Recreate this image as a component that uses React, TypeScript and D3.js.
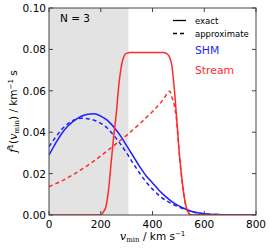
import { useEffect, useRef } from 'react';
import * as d3 from 'd3';

const WIDTH = 270;
const HEIGHT = 250;
const MARGIN = { top: 8, right: 14, bottom: 35, left: 49 };

// x positions (km/s) and values
const shmExactV = [0, 25, 50, 75, 100, 125, 150, 175, 200, 225, 250, 275, 300, 325, 350, 375, 400, 425, 450, 475, 500, 525, 550, 600, 650, 700, 800];
const shmExact = [0.029, 0.0345, 0.0395, 0.0432, 0.0458, 0.0477, 0.0487, 0.0489, 0.0478, 0.0458, 0.0425, 0.0385, 0.0335, 0.0285, 0.0235, 0.019, 0.0155, 0.012, 0.009, 0.0065, 0.0045, 0.003, 0.0018, 0.0006, 0.0002, 0.00005, 0];

const shmApproxV = [0, 25, 50, 75, 100, 125, 150, 175, 200, 225, 250, 275, 300, 325, 350, 375, 400, 425, 450, 475, 500, 525, 550, 600, 650, 700, 800];
const shmApprox = [0.033, 0.0375, 0.0415, 0.0443, 0.046, 0.0467, 0.0465, 0.0458, 0.0443, 0.042, 0.0385, 0.0345, 0.03, 0.025, 0.0203, 0.016, 0.0125, 0.0095, 0.0072, 0.0054, 0.004, 0.0028, 0.0017, 0.0006, 0.0002, 0.00005, 0];

const streamExactV = [0, 200, 210, 220, 230, 240, 250, 260, 270, 280, 290, 300, 315, 440, 455, 465, 475, 485, 495, 505, 515, 525, 535, 550, 800];
const streamExact = [0, 0, 0.0015, 0.004, 0.012, 0.025, 0.038, 0.049, 0.063, 0.072, 0.0768, 0.0782, 0.0785, 0.0785, 0.078, 0.0765, 0.072, 0.06, 0.044, 0.028, 0.016, 0.007, 0.002, 0, 0];

const streamApproxV = [0, 50, 100, 150, 200, 250, 300, 350, 400, 440, 467, 476, 486, 493, 500, 510, 520, 530, 540, 550, 800];
const streamApprox = [0.0137, 0.0165, 0.02, 0.024, 0.0285, 0.0335, 0.0385, 0.044, 0.05, 0.0555, 0.0598, 0.0565, 0.052, 0.046, 0.035, 0.021, 0.011, 0.004, 0.001, 0, 0];

const xTicks = [0, 200, 400, 600, 800];
const yTicks = [0, 0.02, 0.04, 0.06, 0.08, 0.1];
const shadedRange = [0, 307];

const BLUE = '#1f1fff';
const RED = '#ff2b2b';
const FONT = 'DejaVu Sans, sans-serif';

const App = () => {
    const ref = useRef<SVGSVGElement>(null);

    useEffect(() => {
        const svg = d3.select(ref.current);
        svg.selectAll('*').remove();

        const x = d3.scaleLinear().domain([0, 800]).range([MARGIN.left, WIDTH - MARGIN.right]);
        const y = d3.scaleLinear().domain([0, 0.1]).range([HEIGHT - MARGIN.bottom, MARGIN.top]);

        svg.append('defs').append('clipPath').attr('id', 'plotclip')
            .append('rect')
            .attr('x', MARGIN.left).attr('y', MARGIN.top)
            .attr('width', x(800) - x(0)).attr('height', y(0) - y(0.1));

        svg.append('rect')
            .attr('x', x(shadedRange[0])).attr('y', y(0.1))
            .attr('width', x(shadedRange[1]) - x(shadedRange[0]))
            .attr('height', y(0) - y(0.1))
            .attr('fill', '#e3e3e3');

        const line = d3.line<[number, number]>()
            .x((d) => x(d[0]))
            .y((d) => y(d[1]))
            .curve(d3.curveMonotoneX);

        const series = [
            { v: shmExactV, f: shmExact, color: BLUE, dash: null },
            { v: shmApproxV, f: shmApprox, color: BLUE, dash: '4,3' },
            { v: streamExactV, f: streamExact, color: RED, dash: null },
            { v: streamApproxV, f: streamApprox, color: RED, dash: '4,3' },
        ];

        const g = svg.append('g').attr('clip-path', 'url(#plotclip)');
        series.forEach((s) => {
            const pts = s.v.map((v, i) => [v, s.f[i]] as [number, number]);
            g.append('path')
                .attr('d', line(pts))
                .attr('fill', 'none')
                .attr('stroke', s.color)
                .attr('stroke-width', 1.5)
                .attr('stroke-dasharray', s.dash);
        });

        // inward ticks on all four sides
        const axes = svg.append('g').attr('font-family', FONT).attr('font-size', 10.5);
        xTicks.forEach((t) => {
            axes.append('line').attr('x1', x(t)).attr('x2', x(t)).attr('y1', y(0)).attr('y2', y(0) - 4).attr('stroke', '#444');
            axes.append('line').attr('x1', x(t)).attr('x2', x(t)).attr('y1', y(0.1)).attr('y2', y(0.1) + 4).attr('stroke', '#444');
            axes.append('text').attr('x', x(t)).attr('y', y(0) + 12.5).attr('text-anchor', 'middle').text(d3.format('d')(t));
        });
        yTicks.forEach((t) => {
            axes.append('line').attr('x1', x(0)).attr('x2', x(0) + 4).attr('y1', y(t)).attr('y2', y(t)).attr('stroke', '#444');
            axes.append('line').attr('x1', x(800)).attr('x2', x(800) - 4).attr('y1', y(t)).attr('y2', y(t)).attr('stroke', '#444');
            axes.append('text').attr('x', x(0) - 3).attr('y', y(t) + 4).attr('text-anchor', 'end').text(d3.format('.2f')(t));
        });

        svg.append('rect')
            .attr('x', x(0)).attr('y', y(0.1))
            .attr('width', x(800) - x(0)).attr('height', y(0) - y(0.1))
            .attr('fill', 'none').attr('stroke', '#444').attr('stroke-width', 1);

        // x label
        const xl = svg.append('text')
            .attr('x', (x(0) + x(800)) / 2).attr('y', 240)
            .attr('text-anchor', 'middle').attr('font-family', FONT).attr('font-size', 10.5);
        xl.append('tspan').attr('font-family', 'DejaVu Serif, serif').attr('font-style', 'italic').attr('font-size', 11.5).text('v');
        xl.append('tspan').attr('font-family', 'DejaVu Serif, serif').attr('font-size', 7).attr('dy', 2).text('min');
        xl.append('tspan').attr('dy', -2).text(' / km s');
        xl.append('tspan').attr('font-size', 7).attr('dy', -4).text('−1');

        // y label
        const yl = svg.append('text')
            .attr('transform', `translate(17,${(y(0) + y(0.1)) / 2}) rotate(-90)`)
            .attr('text-anchor', 'middle').attr('font-family', FONT).attr('font-size', 10.5);
        yl.append('tspan').attr('font-family', 'DejaVu Serif, serif').attr('font-style', 'italic').attr('font-size', 11.5).text('f\u0302');
        yl.append('tspan').attr('font-size', 7).attr('dy', -4).text('1');
        yl.append('tspan').attr('dy', 4).text('(');
        yl.append('tspan').attr('font-family', 'DejaVu Serif, serif').attr('font-style', 'italic').attr('font-size', 11.5).text('v');
        yl.append('tspan').attr('font-family', 'DejaVu Serif, serif').attr('font-size', 7).attr('dy', 2).text('min');
        yl.append('tspan').attr('dy', -2).text(') / km');
        yl.append('tspan').attr('font-size', 7).attr('dy', -4).text('−1');
        yl.append('tspan').attr('dy', 4).text(' s');

        // annotation
        svg.append('text').attr('x', 60).attr('y', 22)
            .attr('font-family', FONT).attr('font-size', 10.5).text('N = 3');

        // legend
        const lg = svg.append('g').attr('font-family', FONT);
        lg.append('line').attr('x1', 173).attr('x2', 186).attr('y1', 20.5).attr('y2', 20.5).attr('stroke', '#000').attr('stroke-width', 1.3);
        lg.append('line').attr('x1', 173).attr('x2', 186).attr('y1', 33.5).attr('y2', 33.5).attr('stroke', '#000').attr('stroke-width', 1.3).attr('stroke-dasharray', '4,3');
        lg.append('text').attr('x', 195).attr('y', 24).attr('font-size', 8.5).text('exact');
        lg.append('text').attr('x', 195).attr('y', 37).attr('font-size', 8.5).text('approximate');
        lg.append('text').attr('x', 195).attr('y', 54).attr('font-size', 10.8).attr('fill', BLUE).text('SHM');
        lg.append('text').attr('x', 195).attr('y', 74).attr('font-size', 10.8).attr('fill', RED).text('Stream');
    }, []);

    return <svg ref={ref} width={WIDTH} height={HEIGHT} style={{ position: 'absolute', left: 0, top: 0 }} />;
};

export default App;
